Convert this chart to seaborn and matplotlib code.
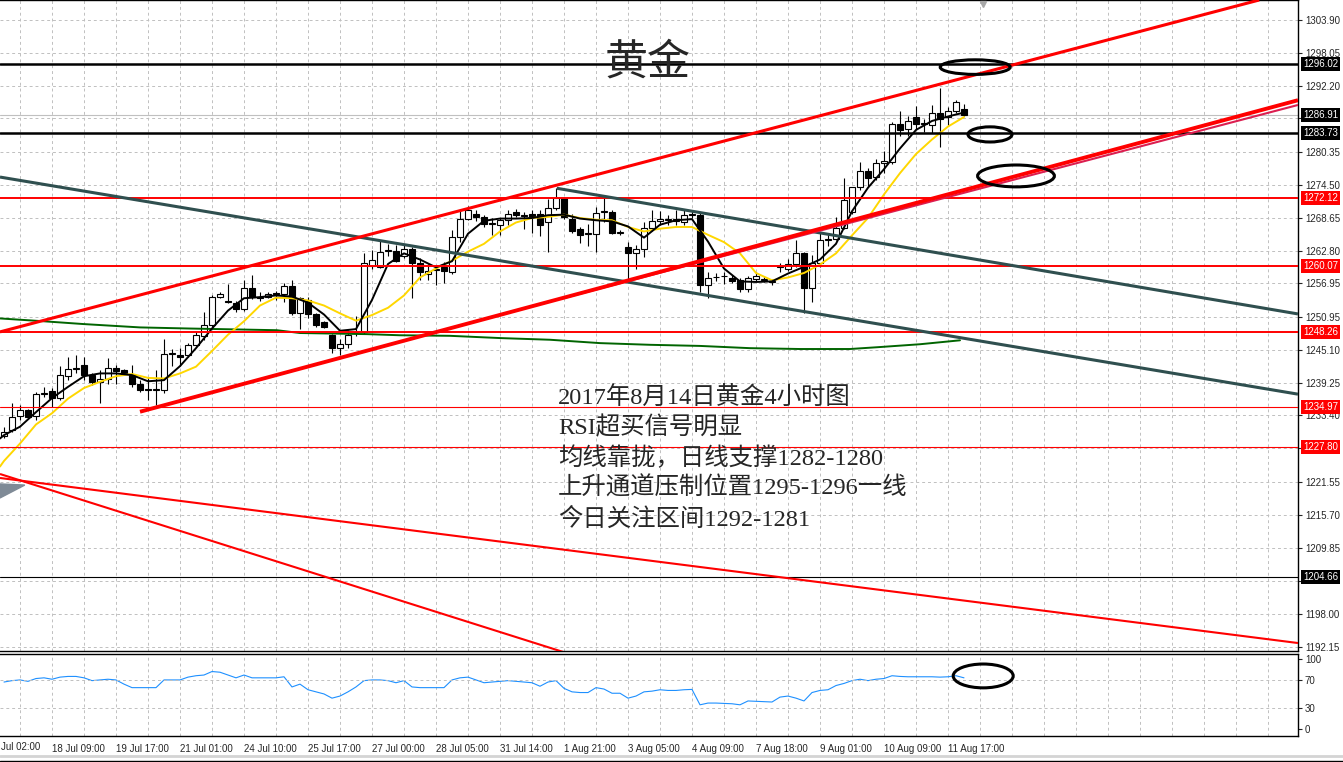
import numpy as np
import matplotlib.pyplot as plt
import matplotlib.transforms as mtransforms
import seaborn as sns
from matplotlib.patches import Ellipse
from matplotlib.lines import Line2D

# ---- 4h candles, bar 0 = first bar on the left ----
opens = [1229.7, 1230.8, 1233.3, 1234.4, 1233.3, 1237.3, 1237.8, 1236.6, 1240.5, 1241.7,
         1242.4, 1240.7, 1239.4, 1239.9, 1241.8, 1241.5, 1240.6, 1239.0, 1238.1, 1238.0,
         1238.0, 1244.4, 1244.2, 1244.2, 1246.0, 1247.6, 1249.5, 1254.5, 1253.8, 1253.5,
         1252.3, 1256.1, 1254.6, 1254.6, 1255.2, 1255.0, 1256.4, 1251.7, 1254.0, 1251.5,
         1250.1, 1247.7, 1245.5, 1246.1, 1248.2, 1248.3, 1260.0, 1259.9, 1262.8, 1262.8,
         1261.8, 1263.0, 1260.6, 1258.6, 1259.3, 1259.9, 1259.0, 1265.3, 1268.4, 1269.4,
         1268.8, 1267.6, 1267.4, 1268.2, 1269.7, 1269.1, 1269.3, 1269.4, 1267.9, 1270.3,
         1272.1, 1268.5, 1266.6, 1265.7, 1265.7, 1269.7, 1269.7, 1266.0, 1263.5, 1262.3,
         1263.0, 1266.9, 1268.1, 1268.3, 1268.1, 1267.9, 1269.1, 1269.1, 1256.7, 1258.0,
         1258.2, 1257.9, 1257.5, 1255.9, 1257.7, 1257.6, 1257.2, 1259.9, 1259.6, 1260.4,
         1262.3, 1256.1, 1260.5, 1264.6, 1264.8, 1266.8, 1269.7, 1274.1, 1276.9, 1275.9,
         1278.4, 1278.6, 1285.4, 1284.4, 1286.6, 1285.4, 1285.2, 1287.3, 1286.6, 1287.7,
         1288.0]
highs = [1231.3, 1235.6, 1235.3, 1234.6, 1237.6, 1238.5, 1238.3, 1242.2, 1243.9, 1244.2,
         1243.9, 1241.0, 1241.5, 1243.6, 1242.4, 1241.6, 1242.4, 1239.7, 1240.3, 1241.5,
         1247.0, 1245.2, 1245.4, 1246.3, 1248.3, 1251.9, 1254.9, 1255.4, 1256.8, 1253.8,
         1257.5, 1258.4, 1255.4, 1255.4, 1255.6, 1257.0, 1257.5, 1254.6, 1254.5, 1251.7,
         1250.3, 1248.0, 1247.1, 1248.6, 1251.1, 1262.3, 1262.9, 1264.6, 1263.9, 1263.8,
         1263.8, 1263.4, 1261.4, 1260.4, 1260.2, 1260.8, 1266.5, 1270.0, 1270.7, 1270.0,
         1269.2, 1268.6, 1268.6, 1270.0, 1270.2, 1269.6, 1270.0, 1270.0, 1271.9, 1273.9,
         1272.4, 1269.4, 1267.0, 1267.6, 1270.6, 1272.4, 1270.0, 1266.4, 1264.4, 1263.8,
         1267.9, 1270.0, 1269.9, 1269.2, 1270.0, 1270.0, 1270.0, 1269.5, 1259.0, 1258.8,
         1259.0, 1258.5, 1257.9, 1258.2, 1258.9, 1258.2, 1257.8, 1260.5, 1261.3, 1264.7,
         1262.6, 1262.0, 1265.9, 1265.8, 1268.8, 1275.7, 1274.2, 1278.6, 1277.6, 1279.1,
         1280.5, 1285.8, 1287.6, 1286.7, 1288.6, 1286.3, 1288.7, 1291.7, 1288.4, 1289.6,
         1289.0]
lows = [1229.3, 1230.5, 1232.6, 1233.0, 1232.6, 1236.7, 1235.0, 1236.2, 1239.8, 1240.9,
        1239.8, 1238.9, 1235.7, 1239.1, 1239.1, 1240.7, 1238.5, 1237.6, 1236.2, 1235.3,
        1237.4, 1242.2, 1242.2, 1243.9, 1245.7, 1246.9, 1249.2, 1254.3, 1253.4, 1251.9,
        1252.1, 1254.1, 1253.8, 1254.3, 1254.0, 1253.7, 1251.3, 1248.9, 1250.7, 1249.2,
        1249.0, 1244.6, 1244.2, 1245.4, 1247.6, 1248.0, 1259.6, 1259.7, 1261.8, 1260.8,
        1261.4, 1254.3, 1257.5, 1257.5, 1256.7, 1257.1, 1258.7, 1264.4, 1268.2, 1268.0,
        1267.0, 1265.6, 1265.6, 1267.4, 1268.8, 1266.6, 1265.9, 1265.4, 1262.6, 1270.0,
        1268.5, 1265.9, 1264.1, 1263.6, 1262.6, 1267.9, 1265.7, 1265.5, 1257.3, 1259.6,
        1261.6, 1266.3, 1267.4, 1267.4, 1267.4, 1267.4, 1268.6, 1255.5, 1254.3, 1257.3,
        1256.9, 1257.0, 1255.5, 1255.5, 1257.4, 1257.2, 1256.7, 1258.9, 1259.2, 1259.9,
        1251.6, 1253.7, 1259.9, 1263.6, 1264.6, 1266.6, 1269.4, 1273.6, 1274.3, 1275.4,
        1276.6, 1278.3, 1283.2, 1283.2, 1284.4, 1284.0, 1283.8, 1281.2, 1285.2, 1287.4,
        1286.7]
closes = [1230.5, 1233.2, 1234.4, 1233.2, 1237.2, 1237.4, 1236.6, 1240.6, 1241.6, 1241.8,
          1240.6, 1239.4, 1239.9, 1241.8, 1241.4, 1240.9, 1239.0, 1237.9, 1238.0, 1238.1,
          1244.4, 1244.5, 1243.9, 1246.0, 1247.7, 1249.5, 1254.5, 1255.1, 1253.7, 1252.3,
          1256.1, 1254.5, 1254.3, 1255.1, 1255.1, 1256.4, 1251.7, 1254.3, 1251.5, 1249.5,
          1249.2, 1245.5, 1246.1, 1247.7, 1248.3, 1260.5, 1261.1, 1262.6, 1262.9, 1261.0,
          1263.0, 1260.6, 1259.0, 1259.2, 1259.4, 1259.2, 1265.3, 1268.4, 1270.0, 1268.7,
          1267.5, 1267.7, 1268.2, 1269.4, 1269.1, 1269.0, 1268.8, 1267.4, 1270.3, 1272.1,
          1268.8, 1266.2, 1265.6, 1265.8, 1269.5, 1269.8, 1266.0, 1266.1, 1262.3, 1263.0,
          1266.9, 1268.1, 1268.5, 1268.4, 1268.5, 1269.1, 1269.2, 1256.7, 1257.9, 1258.1,
          1258.3, 1257.3, 1255.9, 1257.9, 1258.3, 1257.7, 1257.3, 1260.0, 1260.4, 1262.3,
          1256.1, 1260.5, 1264.7, 1264.9, 1266.8, 1271.8, 1274.1, 1276.9, 1275.7, 1278.4,
          1278.8, 1285.4, 1284.3, 1285.9, 1285.4, 1285.3, 1287.3, 1286.2, 1287.7, 1289.3,
          1286.91]

# ---- moving averages ----
ma_bars = [-0.5] + list(range(0, 121, 2))
ma_black = [1229.3, 1229.9, 1231.4, 1234.0, 1236.5, 1238.5, 1240.4, 1240.9, 1240.9, 1240.6, 1239.5,
            1239.7, 1242.2, 1245.4, 1248.9, 1252.1, 1254.3, 1254.5, 1254.8, 1254.6, 1253.5,
            1251.4, 1248.5, 1248.8, 1254.0, 1260.4, 1262.3, 1261.2, 1259.8, 1260.9, 1265.8,
            1268.1, 1268.5, 1268.5, 1268.6, 1269.1, 1269.2, 1268.5, 1268.2, 1268.0, 1267.1,
            1265.1, 1267.4, 1268.2, 1268.4, 1264.4, 1259.6, 1257.3, 1257.2, 1257.3, 1258.7,
            1259.9, 1261.2, 1264.0, 1269.8, 1274.0, 1277.3, 1281.0, 1284.3, 1285.9, 1286.7,
            1287.4]
ma_yellow = [1224.3, 1225.3, 1228.4, 1231.8, 1233.8, 1236.4, 1238.3, 1239.4, 1240.4, 1240.8, 1240.1,
             1240.0, 1240.9, 1242.1, 1244.9, 1247.8, 1250.2, 1253.0, 1254.4, 1254.3, 1253.9,
             1253.0, 1251.6, 1250.3, 1251.3, 1252.6, 1254.8, 1258.0, 1259.6, 1261.0, 1262.6,
             1264.0, 1266.2, 1267.8, 1268.6, 1268.8, 1269.2, 1268.6, 1268.3, 1268.2, 1267.0,
             1266.2, 1266.7, 1267.0, 1267.0, 1265.6, 1264.3, 1262.3, 1258.8, 1257.5, 1258.0,
             1258.8, 1260.3, 1262.3, 1265.5, 1268.6, 1272.8, 1276.6, 1280.0, 1282.6, 1284.9,
             1286.6]
ma_long_bars = [-0.5, 4.9, 9.9, 17, 23.25, 34.1, 37, 45.4, 49.5, 55.75, 62, 68.25, 74.5,
                80.75, 87, 93.25, 99.5, 105.75, 109.5, 114.5, 119.5]
ma_long = [1250.7, 1250.2, 1249.7, 1249.1, 1248.9, 1248.6, 1248.1, 1247.9, 1247.7, 1247.6,
           1247.2, 1246.9, 1246.3, 1246.0, 1245.8, 1245.4, 1245.25, 1245.25, 1245.6, 1246.1,
           1246.8]

# ---- RSI per bar ----
rsi = [67, 69, 70, 68, 72, 73, 71, 74, 75, 75, 73, 69, 70, 71, 70, 64, 59, 59, 59, 59,
       70, 70, 70, 74, 76, 77, 82, 81, 77, 73, 77, 73, 73, 73, 73, 74.5, 60, 64, 56, 53,
       50, 44, 47, 53, 60, 69, 70, 70, 69, 66, 69, 60, 59, 59, 59, 59, 70, 73, 74, 70,
       66, 67, 68, 69, 68, 67, 66, 61, 67, 69, 58, 53, 52, 52, 59, 57, 51, 51, 44, 47,
       53, 54, 56, 55, 55, 56, 56.5, 34.5, 37, 37, 36.5, 36, 34.5, 40, 39.5, 39, 38.5, 45.5, 47, 44,
       40, 52, 55, 56, 62, 65, 69, 71, 69, 71, 72, 76, 75, 74.5, 74.5, 74.5, 74.5, 74, 74.5, 76,
       73]

# ---- axis labels ----
date_bars = [6, 14, 22, 30, 38, 46, 54, 62, 70, 78, 86, 94, 102, 110, 118]
date_labels = ['18 Jul 09:00', '19 Jul 17:00', '21 Jul 01:00', '24 Jul 10:00',
               '25 Jul 17:00', '27 Jul 00:00', '28 Jul 05:00', '31 Jul 14:00', '1 Aug 21:00',
               '3 Aug 05:00', '4 Aug 09:00', '7 Aug 18:00', '9 Aug 01:00', '10 Aug 09:00',
               '11 Aug 17:00']
cut_label = 'Jul 02:00'   # first label, cut by the left edge in the original
price_ticks = [1303.90, 1298.05, 1292.20, 1286.35, 1280.35, 1274.50, 1268.65, 1262.80, 1256.95,
               1250.95, 1245.10, 1239.25, 1233.40, 1227.55, 1221.55, 1215.70, 1209.85, 1203.85,
               1198.00, 1192.15]
hidden_ticks = [1286.35, 1227.55, 1203.85]   # covered by the level boxes

# ---- drawn objects: levels and trend lines (bar, price) ----
black_levels = [1296.02, 1283.73]
red_levels = [1272.12, 1260.07, 1248.26]
thin_red_levels = [1234.97, 1227.80]
thin_black_levels = [1204.66]
last_price = 1286.91
box_labels = [(1296.02, 'black'), (1286.91, 'black'), (1283.73, 'black'), (1272.12, 'red'),
              (1260.07, 'red'), (1248.26, 'red'), (1234.97, 'red'), (1227.80, 'red'),
              (1204.66, 'black')]

channel_up = [(-0.5, 1248.3), (156.9, 1307.46)]
channel_low = [(17, 1234.07), (161.75, 1289.6)]
channel_low2 = [(69.5, 1254.16), (161.75, 1288.75)]
slate_1 = [(-0.5, 1275.9), (161.75, 1237.2)]
slate_2 = [(69.1, 1273.9), (161.75, 1251.5)]
red_down_1 = [(-0.5, 1222.26), (161.75, 1192.84)]
red_down_2 = [(-0.5, 1222.97), (70, 1191.2)]
arrow_bars = [-0.5, 2.6, -0.5]
arrow_prices = [1221.2, 1221.0, 1218.7]
# ellipses: (bar, value, width in bars, height in value units)
price_ellipses = [(121.4, 1295.5, 8.75, 2.6), (123.25, 1283.5, 5.5, 2.7), (126.5, 1276.1, 9.6, 3.9)]
rsi_ellipse = (122.4, 75.7, 7.5, 34)

title_text = '黄金'
note_lines = ['2017年8月14日黄金4小时图', 'RSI超买信号明显', '均线靠拢，日线支撑1282-1280',
              '上升通道压制位置1295-1296一线', '今日关注区间1292-1281']

# ---------------------------------------------------------------
sns.set_style('white')
plt.rcParams['font.family'] = ['Liberation Sans', 'Noto Sans CJK SC']

W, H = 1343, 762
fig = plt.figure(figsize=(W / 100, H / 100), dpi=100)
ax = fig.add_axes([0, 1 - 651 / H, 1298 / W, 651 / H])
axr = fig.add_axes([0, 1 - 736 / H, 1298 / W, 82 / H])

xlim = (-0.5, 161.75)
grid_bars = np.arange(2, 162, 4)
grid_kw = dict(color='#C0C0C0', linestyle=(0, (3, 3)), linewidth=0.7)

# main panel
ax.set_xlim(*xlim)
ax.set_ylim(1191.42, 1307.46)
ax.set_xticks(grid_bars)
ax.set_yticks(price_ticks)
ax.set_yticklabels(['' if v in hidden_ticks else f'{v:.2f}' for v in price_ticks])
ax.tick_params(axis='x', length=0, labelbottom=False)
ax.tick_params(axis='y', left=False, labelleft=False, right=True, labelright=True,
               direction='out', length=3, width=0.8, pad=2, labelsize=7)
ax.grid(True, **grid_kw)
ax.set_axisbelow(True)
for side in ['top', 'right', 'bottom']:
    ax.spines[side].set_color('black')
    ax.spines[side].set_linewidth(1.0)
ax.spines['left'].set_visible(False)

# candles
x = np.arange(len(opens))
o, c = np.array(opens), np.array(closes)
up = c >= o
body_lo = np.minimum(o, c)
body_h = np.maximum(np.abs(c - o), 0.15)
ax.vlines(x, lows, highs, color='black', linewidth=0.8, zorder=3)
ax.bar(x[up], body_h[up], bottom=body_lo[up], width=0.64, color='white',
       edgecolor='black', linewidth=0.8, zorder=4)
ax.bar(x[~up], body_h[~up], bottom=body_lo[~up], width=0.64, color='black',
       edgecolor='black', linewidth=0.8, zorder=4)

# moving averages
sns.lineplot(x=ma_long_bars, y=ma_long, ax=ax, color='#006400', linewidth=1.4,
             estimator=None, sort=False, zorder=5)
sns.lineplot(x=ma_bars, y=ma_yellow, ax=ax, color='#FFD700', linewidth=1.4,
             estimator=None, sort=False, zorder=5)
sns.lineplot(x=ma_bars, y=ma_black, ax=ax, color='black', linewidth=1.4,
             estimator=None, sort=False, zorder=6)

# horizontal levels
ax.axhline(last_price, color='#C0C0C0', linewidth=0.8, zorder=2)
for v in black_levels:
    ax.axhline(v, color='black', linewidth=1.8, zorder=7)
for v in red_levels:
    ax.axhline(v, color='red', linewidth=1.4, zorder=7)
for v in thin_red_levels:
    ax.axhline(v, color='red', linewidth=0.8, zorder=7)
for v in thin_black_levels:
    ax.axhline(v, color='black', linewidth=0.8, zorder=7)

# trend lines
def seg(pts, **kw):
    ax.plot([p[0] for p in pts], [p[1] for p in pts], solid_capstyle='butt', **kw)

seg(slate_1, color='#2F4F4F', linewidth=2.2, zorder=7)
seg(slate_2, color='#2F4F4F', linewidth=2.2, zorder=7)
seg(channel_low2, color='#DC1E50', linewidth=1.5, zorder=8)
seg(channel_low, color='red', linewidth=2.8, zorder=8)
seg(channel_up, color='red', linewidth=2.2, zorder=8)
seg(red_down_1, color='red', linewidth=1.5, zorder=7)
seg(red_down_2, color='red', linewidth=1.5, zorder=7)
ax.fill(arrow_bars, arrow_prices, color='#7F8A96', zorder=7)
ax.plot([122.4], [1306.7], marker='v', markersize=5, color='#A8A8A8', zorder=9, clip_on=False)

for bx, by, bw, bh in price_ellipses:
    ax.add_patch(Ellipse((bx, by), bw, bh, fill=False, edgecolor='black', linewidth=2.2, zorder=9))

# right-hand boxed labels
lab_tr = mtransforms.blended_transform_factory(ax.transAxes, ax.transData)
for v, col in box_labels:
    ax.text(1 + 5 / 1298, v, f'{v:.2f}', transform=lab_tr, fontsize=7, color='white',
            va='center', ha='left', zorder=12, clip_on=False,
            bbox=dict(boxstyle='square,pad=0.22', facecolor=col, edgecolor='none'))

# RSI panel
axr.set_xlim(*xlim)
axr.set_ylim(-10, 107)
sns.lineplot(x=list(range(len(rsi))), y=rsi, ax=axr, color='#1E90FF', linewidth=0.8,
             estimator=None, sort=False)
axr.axhline(70, **grid_kw)
axr.axhline(30, **grid_kw)
axr.set_xticks(date_bars)
axr.set_xticklabels(date_labels, ha='left')
axr.set_xticks(grid_bars, minor=True)
axr.grid(True, axis='x', which='both', **grid_kw)
axr.set_axisbelow(True)
axr.set_yticks([0, 30, 70, 100])
axr.tick_params(axis='y', left=False, labelleft=False, right=True, labelright=True,
                direction='out', length=3, width=0.8, pad=2, labelsize=7)
axr.tick_params(axis='x', which='major', direction='out', length=4, width=0.8, pad=2,
                labelsize=7)
axr.tick_params(axis='x', which='minor', direction='out', length=2, width=0.6)
for side in ['top', 'right', 'bottom']:
    axr.spines[side].set_color('black')
    axr.spines[side].set_linewidth(1.0)
axr.spines['left'].set_visible(False)
axr.add_patch(Ellipse(rsi_ellipse[:2], rsi_ellipse[2], rsi_ellipse[3], fill=False,
                      edgecolor='black', linewidth=2.2, zorder=9))
axr.text(0.0005, -0.075, cut_label, fontsize=7, ha='left', va='top',
         transform=axr.transAxes, clip_on=False)
for a in (ax, axr):
    a.set_xlabel('')
    a.set_ylabel('')

# texts
fig.text(648 / W, 1 - 63 / H, title_text, fontsize=31, ha='center', va='center',
         family=['Noto Sans CJK SC'], fontweight='light')
for k, line in enumerate(note_lines):
    fig.text(558 / W, 1 - (397 + 30.5 * k) / H, line, fontsize=17.6, ha='left', va='center',
             family=['Liberation Serif', 'Noto Sans CJK SC'])

# bottom frame lines
fig.add_artist(Line2D([0, 1], [1 - 756 / H] * 2, transform=fig.transFigure,
                      color='#D4D4D4', linewidth=2))
fig.add_artist(Line2D([0, 1], [1 - 760.5 / H] * 2, transform=fig.transFigure,
                      color='black', linewidth=1))

fig.savefig('out.png', dpi=100)
